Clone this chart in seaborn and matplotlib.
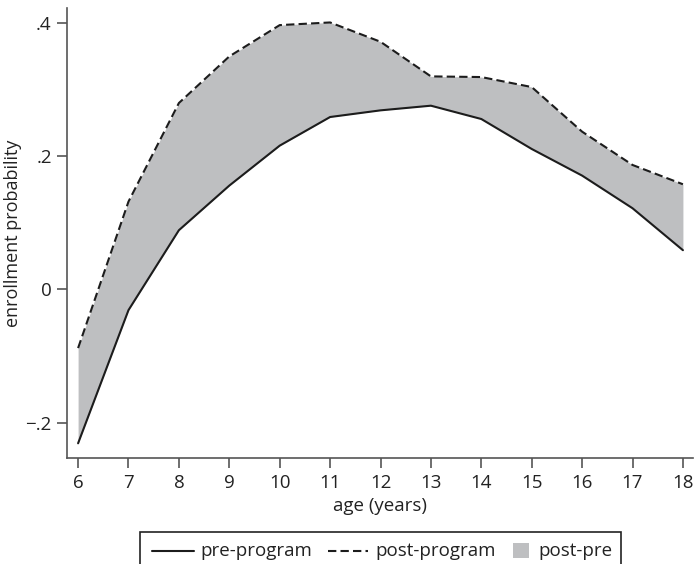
import matplotlib
matplotlib.use("Agg")
import matplotlib.pyplot as plt
from matplotlib.lines import Line2D
from matplotlib.patches import Rectangle
import seaborn as sns
import pandas as pd

# Enrollment probability by age, before and after the program
ages = [6, 7, 8, 9, 10, 11, 12, 13, 14, 15, 16, 17, 18]
pre_program = [-0.231, -0.031, 0.089, 0.156, 0.216, 0.259, 0.269, 0.276,
               0.256, 0.211, 0.171, 0.122, 0.059]
post_program = [-0.088, 0.132, 0.280, 0.350, 0.397, 0.401, 0.372, 0.320,
                0.319, 0.304, 0.237, 0.187, 0.158]
y_ticks = [-0.2, 0.0, 0.2, 0.4]
y_tick_labels = ["\u2212.2", "0", ".2", ".4"]
legend_labels = ["pre-program", "post-program", "post-pre"]

sns.set_style("ticks")
plt.rcParams["font.family"] = ["Open Sans", "DejaVu Sans"]

df = pd.DataFrame({"age": ages, "pre": pre_program, "post": post_program})

line_color = "#1c1c1c"
fill_color = "#bebfc1"
axis_color = "#555555"
text_color = "#222222"
fs = 13.5
W, H = 695, 564

fig = plt.figure(figsize=(W / 100, H / 100), dpi=100)
ax = fig.add_axes([67 / W, 1 - 458.3 / H, 626 / W, 450.3 / H])

ax.fill_between(df["age"], df["pre"], df["post"], color=fill_color,
                linewidth=0, zorder=1)
sns.lineplot(data=df, x="age", y="pre", ax=ax, color=line_color,
             linewidth=1.5, zorder=3)
sns.lineplot(data=df, x="age", y="post", ax=ax, color=line_color,
             linewidth=1.5, zorder=3)
ax.lines[-1].set_dashes((4, 2))

ax.set_xlim(5.78, 18.2)
ax.set_ylim(-0.2535, 0.4227)
ax.set_xticks(ages)
ax.set_xticklabels([str(a) for a in ages])
ax.set_yticks(y_ticks)
ax.set_yticklabels(y_tick_labels)

ax.set_xlabel("age (years)", fontsize=fs, color=text_color, labelpad=4)
ax.set_ylabel("enrollment probability", fontsize=13, color=text_color,
              va="center")
ax.yaxis.set_label_coords((13 - 67) / 626, 0.5)

for side in ["top", "right"]:
    ax.spines[side].set_visible(False)
for side in ["left", "bottom"]:
    ax.spines[side].set_color(axis_color)
    ax.spines[side].set_linewidth(1.2)
ax.tick_params(axis="both", direction="out", length=7, width=1.2,
               color=axis_color, labelsize=fs, labelcolor=text_color, pad=4)


# Legend box along the bottom edge, laid out in pixel positions
def fx(x):
    return x / W


def fy(y):
    return 1 - y / H


fig.add_artist(Rectangle((fx(140), fy(572)), fx(620.7) - fx(140),
                         fy(531.7) - fy(572), transform=fig.transFigure,
                         facecolor="white", edgecolor=text_color,
                         linewidth=1.2, clip_on=False))
ly = fy(550.5)
fig.add_artist(Line2D([fx(152), fx(194)], [ly, ly], transform=fig.transFigure,
                      color=line_color, linewidth=1.5))
fig.add_artist(Line2D([fx(328), fx(368)], [ly, ly], transform=fig.transFigure,
                      color=line_color, linewidth=1.5, dashes=(4, 2)))
fig.add_artist(Rectangle((fx(513), fy(557.5)), fx(529) - fx(513),
                         fy(543) - fy(557.5), transform=fig.transFigure,
                         facecolor=fill_color, edgecolor="none"))
for x0, label in zip([200, 375, 538], legend_labels):
    fig.text(fx(x0), fy(555.5), label, fontsize=fs, color=text_color,
             ha="left", va="baseline")

fig.savefig("out.png", dpi=100)
